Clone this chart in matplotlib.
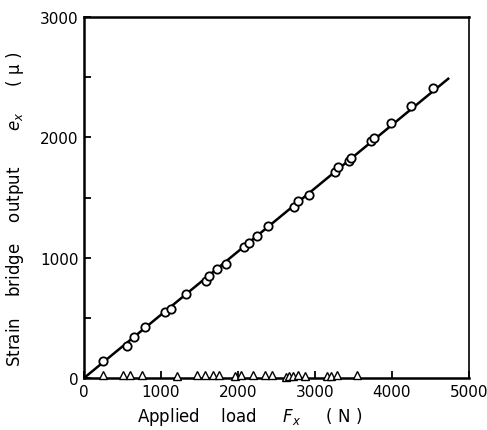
import matplotlib
matplotlib.use("Agg")
import matplotlib.pyplot as plt
import numpy as np

# measured points (circles): applied load F_x (N) vs strain output e_x (micro)
load_circ = [251, 562, 649, 792, 1056, 1130, 1321, 1584, 1623, 1723, 1844,
             2078, 2143, 2251, 2386, 2723, 2783, 2918, 3256, 3299, 3440,
             3470, 3725, 3760, 3987, 4251, 4532]
strain_circ = [144, 268, 343, 422, 547, 574, 701, 809, 850, 904, 948,
               1086, 1122, 1183, 1261, 1424, 1469, 1521, 1710, 1751, 1800,
               1830, 1970, 1995, 2122, 2259, 2408]

# cross-talk points (triangles) near zero
load_tri = [243, 511, 597, 747, 1204, 1463, 1571, 1669, 1747, 1961, 2039,
            2199, 2351, 2448, 2623, 2662, 2714, 2779, 2870, 3152, 3208,
            3282, 3541]
strain_tri = [25, 22, 25, 25, 18, 22, 22, 25, 25, 20, 22,
              25, 25, 22, 10, 15, 20, 22, 18, 18, 20, 22, 28]

# fitted line
fit_load = [0, 4730]
fit_strain = [0, 2487]

fig = plt.figure(figsize=(4.87, 4.31), dpi=100)
ax = fig.add_axes([0.1725, 0.1206, 0.7905, 0.8376])

ax.plot(fit_load, fit_strain, color="black", lw=1.8, zorder=2)
ax.plot(load_circ, strain_circ, "o", ms=6, mfc="white", mec="black",
        mew=1.3, zorder=3)
ax.plot(load_tri, strain_tri, "^", ms=6, mfc="white", mec="black",
        mew=1.0, zorder=3, clip_on=False)

ax.set_xlim(0, 5000)
ax.set_ylim(0, 3000)
ax.set_xticks([0, 1000, 2000, 3000, 4000, 5000])
ax.set_yticks([0, 1000, 2000, 3000])
ax.set_yticks([500, 1500, 2500], minor=True)
ax.tick_params(which="both", direction="in", length=5, width=1.3,
               labelsize=11, pad=4)
for s in ax.spines.values():
    s.set_linewidth(1.8)
ax.spines["right"].set_linewidth(1.2)

ax.set_xlabel(r"Applied    load     $F_x$     ( N )", fontsize=12)
ax.xaxis.set_label_coords(0.43, -0.075)
ax.set_ylabel(r"Strain    bridge    output       $e_x$     ( μ )",
              fontsize=12)
ax.yaxis.set_label_coords(-0.15, 0.47)

fig.savefig("out.png", dpi=100)
